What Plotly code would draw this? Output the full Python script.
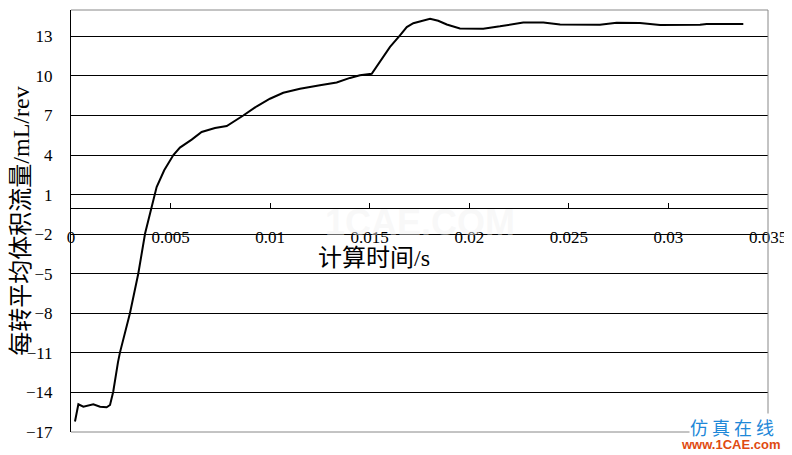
import plotly.graph_objects as go

time_s = [0.0002, 0.00037, 0.00062, 0.00112, 0.00146, 0.00179, 0.00196, 0.00212, 0.00236, 0.00246,
          0.00296, 0.00338, 0.00372, 0.00405, 0.0043, 0.00468, 0.00514, 0.00547, 0.00606, 0.00656,
          0.00723, 0.00782, 0.00807, 0.00865, 0.00933, 0.00999, 0.01066, 0.0115, 0.0125, 0.01334,
          0.01401, 0.01451, 0.0151, 0.01552, 0.01602, 0.01652, 0.01686, 0.01719, 0.01761, 0.01803,
          0.01844, 0.01887, 0.01953, 0.0207, 0.02154, 0.02271, 0.02372, 0.02456, 0.02656, 0.0274,
          0.02857, 0.02958, 0.03159, 0.03192, 0.03376]
flow = [-16.2, -14.9, -15.08, -14.9, -15.08, -15.13, -14.95, -13.95, -11.7, -10.96,
        -8.0, -4.98, -1.95, -0.05, 1.58, 2.85, 4.0, 4.57, 5.17, 5.75,
        6.05, 6.2, 6.43, 7.0, 7.7, 8.27, 8.72, 9.03, 9.29, 9.5,
        9.85, 10.05, 10.17, 11.1, 12.2, 13.08, 13.7, 14.0, 14.18, 14.33,
        14.18, 13.9, 13.6, 13.58, 13.76, 14.06, 14.06, 13.9, 13.88, 14.04,
        14.01, 13.86, 13.88, 13.94, 13.94]

x_ticks = [0, 0.005, 0.01, 0.015, 0.02, 0.025, 0.03, 0.035]
x_ticktext = ["0", "0.005", "0.01", "0.015", "0.02", "0.025", "0.03", "0.035"]
y_ticks = [-17, -14, -11, -8, -5, -2, 1, 4, 7, 10, 13]

y_min, y_max = -17, 15

fig = go.Figure()
fig.add_trace(go.Scatter(x=time_s, y=flow, mode="lines",
                         line=dict(color="black", width=2), showlegend=False))

serif = "Liberation Serif"
title_font = "Liberation Serif, Noto Sans CJK SC"

fig.update_layout(
    width=784, height=447,
    margin=dict(l=63, r=24, t=2, b=23, autoexpand=False),
    paper_bgcolor="white", plot_bgcolor="white",
    xaxis=dict(
        range=[0, 0.035], tickvals=x_ticks, ticktext=x_ticktext,
        anchor="free", position=(0 - y_min) / (y_max - y_min),
        showline=True, linecolor="black", linewidth=1,
        ticks="inside", ticklen=5, tickcolor="black",
        showgrid=False, zeroline=False, automargin=False,
        tickfont=dict(family=serif, size=17, color="black"),
        ticklabelstandoff=14,
    ),
    yaxis=dict(
        range=[y_min, y_max], tickvals=y_ticks,
        showline=True, linecolor="black", linewidth=1,
        showgrid=True, gridcolor="black", gridwidth=1,
        zeroline=False, ticks="", automargin=False,
        tickfont=dict(family=serif, size=17, color="black"),
        ticklabelstandoff=14,
        title=dict(text="每转平均体积流量/mL/rev",
                   font=dict(family=title_font, size=24, color="black"),
                   standoff=4),
    ),
    shapes=[
        dict(type="line", xref="paper", yref="paper", x0=0, x1=1, y0=1, y1=1,
             line=dict(color="#888888", width=1), layer="above"),
        dict(type="line", xref="paper", yref="paper", x0=1, x1=1, y0=0, y1=1,
             line=dict(color="#888888", width=1), layer="above"),
        dict(type="line", xref="paper", yref="paper", x0=0, x1=1, y0=0, y1=0,
             line=dict(color="#888888", width=1), layer="above"),
    ],
    annotations=[
        dict(text="计算时间/s", xref="paper", yref="paper",
             x=(374 - 71) / 697, y=(432 - 257.5) / 422,
             xanchor="center", yanchor="middle", showarrow=False,
             font=dict(family=title_font, size=24, color="black")),
        dict(text="<b>1CAE.COM</b>", xref="paper", yref="paper",
             x=(420 - 71) / 697, y=(432 - 222) / 422,
             xanchor="center", yanchor="middle", showarrow=False,
             font=dict(family="Liberation Sans", size=36, color="rgba(240,240,240,0.45)")),
        dict(text="仿 真 在 线", xref="paper", yref="paper",
             x=(732 - 71) / 697, y=(432 - 427) / 422,
             xanchor="center", yanchor="middle", showarrow=False,
             bgcolor="white", borderpad=0,
             font=dict(family="Noto Sans CJK SC", size=18, color="#1e88d8")),
        dict(text="<b>www.1CAE.com</b>", xref="paper", yref="paper",
             x=(730 - 71) / 697, y=(432 - 445) / 422,
             xanchor="center", yanchor="middle", showarrow=False,
             borderpad=0,
             font=dict(family="Liberation Sans", size=13, color="#e04a10")),
    ],
)

fig.write_html("out.html")
